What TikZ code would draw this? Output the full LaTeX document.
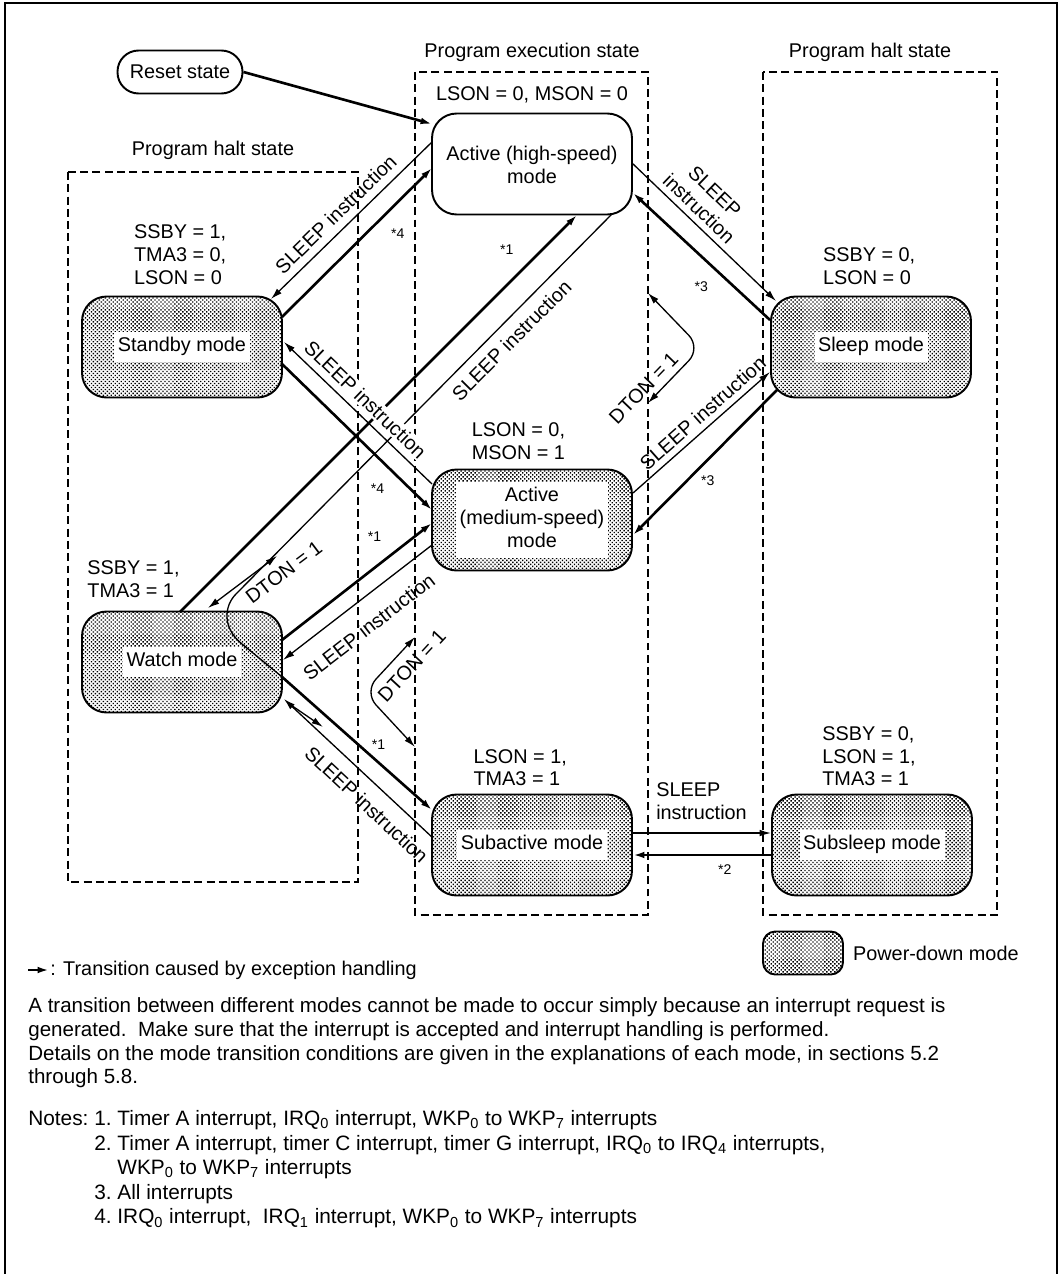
\documentclass[tikz,border=0pt]{standalone}
\usepackage{fontspec}
\setmainfont{Liberation Sans}
\usetikzlibrary{arrows.meta, positioning, calc, patterns.meta}
\newcommand{\wbox}[1]{{\setlength{\fboxsep}{2pt}\colorbox{white}{\begin{tabular}{@{}c@{}}#1\end{tabular}}}}

\begin{document}
\begin{tikzpicture}[
    x=0.02cm, y=-0.02cm,
    >={Latex[length=6.5pt,width=3.8pt]},
    font=\fontsize{11.3}{13}\selectfont,
    mode/.style={draw, line width=1.1pt, rounded corners=14pt, minimum width=4cm, minimum height=2.02cm, inner sep=0pt, align=center},
    pdmode/.style={mode, pattern={Dots[distance=1.6pt, radius=0.55pt, angle=45]}},
    cond/.style={align=left, inner sep=0pt},
    grp/.style={draw, line width=0.85pt, dash pattern=on 4.5pt off 2.5pt},
    slp/.style={->, line width=0.75pt},
    exc/.style={->, line width=1.5pt},
    dton/.style={<->, line width=0.75pt, rounded corners=10pt},
    lbl/.style={sloped},
    astx/.style={font=\fontsize{8}{8}\selectfont, inner sep=5pt}
]
    \useasboundingbox (0,0) rectangle (1062,1274);
    \draw[line width=1.1pt] (5,1274) -- (5,3) -- (1057,3) -- (1057,1274);

    \draw[grp] (68,172) rectangle (358,882);
    \draw[grp] (415,72) rectangle (648,915);
    \draw[grp] (763,72) rectangle (997,915);
    \node (exectitle) at (532,52) {Program execution state};
    \node (halttitleR) at (870,52) {Program halt state};
    \node (halttitleL) at (213,150) {Program halt state};

    \node[draw, line width=1.1pt, rounded corners=12pt, minimum width=2.5cm, minimum height=0.86cm] (reset) at (180,72) {Reset state};
    \node[mode] (act) at (532,164) {\rule{0pt}{9pt}Active (high-speed)\\mode};
    \node[pdmode] (sby) at (182,347) {\wbox{Standby mode}};
    \node[pdmode] (slp) at (871,347) {\wbox{Sleep mode}};
    \node[pdmode] (amid) at (532,520) {\wbox{Active\\(medium-speed)\\mode}};
    \node[pdmode] (wch) at (182,662) {\wbox{Watch mode}};
    \node[pdmode] (sub) at (532,845) {\wbox{Subactive mode}};
    \node[pdmode] (ssl) at (872,845) {\wbox{Subsleep mode}};

    \node[cond, above=5pt of act] (actcond) {LSON = 0, MSON = 0};
    \node[cond, above right=6pt and 30pt of sby.north west] (sbycond) {SSBY = 1,\\TMA3 = 0,\\LSON = 0};
    \node[cond, above right=6pt and 30pt of slp.north west] (slpcond) {SSBY = 0,\\LSON = 0};
    \node[cond, above right=5pt and 23pt of amid.north west] (amidcond) {LSON = 0,\\MSON = 1};
    \node[cond, above right=7pt and 3.4pt of wch.north west] (wchcond) {SSBY = 1,\\TMA3 = 1};
    \node[cond, above right=4pt and 24pt of sub.north west] (subcond) {LSON = 1,\\TMA3 = 1};
    \node[cond, above right=4pt and 29pt of ssl.north west] (sslcond) {SSBY = 0,\\LSON = 1,\\TMA3 = 1};

    \coordinate (dtontip) at (277,556);
    \coordinate (subtip) at (323,727);
    \coordinate (loopR1) at (648,293);
    \coordinate (loopR2) at (648,403);
    \coordinate (loopL1) at (415,637);
    \coordinate (loopL2) at (415,747);

    \draw[exc] (reset.east) -- ($(act)+(-100,-40)$);
    \draw[slp] ($(act)+(-100,-22)$) -- node[lbl, pos=0.53, above=1pt]{SLEEP instruction} ($(sby)+(89,-48)$);
    \draw[exc] ($(sby)+(100,-30)$) -- node[astx, pos=0.66, below right]{*4} ($(act)+(-100,4)$);
    \draw[slp] ($(act)+(100,-1)$) -- node[lbl, pos=0.4, above, align=center]{SLEEP\\instruction} ($(slp)+(-95,-46)$);
    \draw[exc] ($(slp)+(-101,-27)$) -- node[astx, pos=0.38, below left]{*3} ($(act)+(101,29)$);
    \draw[exc] ($(wch)+(-2,-50)$) -- node[astx, pos=0.87, above left, inner sep=6pt]{*1} ($(act)+(45,51)$);
    \draw[slp, -] ($(act)+(80,50)$) -- node[lbl, pos=0.3, below=2pt]{SLEEP instruction} ($(wch)+(54,-68)$)
        .. controls ($(wch)+(42,-56)$) and ($(wch)+(40,-34)$) .. ($(wch)+(60,-18)$) -- ($(wch)+(99,14)$);
    \draw[slp, <->] ($(wch)+(26,-54)$) -- node[lbl, pos=0.95, below=2pt]{DTON = 1} (dtontip);

    \draw[slp] ($(amid)+(-100,-36)$) -- node[lbl, pos=0.52, above=3pt, fill=white, inner sep=1pt]{SLEEP instruction} ($(sby)+(102,-5)$);
    \draw[exc] ($(sby)+(99,16)$) -- node[astx, pos=0.75, below left]{*4} ($(amid)+(-100,-10)$);
    \draw[exc] ($(wch)+(100,-22)$) -- node[astx, pos=0.74, above left, inner sep=6pt]{*1} ($(amid)+(-100,3)$);
    \draw[slp] ($(amid)+(-100,25)$) -- node[lbl, pos=0.53, below=7pt]{SLEEP instruction} ($(wch)+(101,-2)$);
    \draw[slp] ($(amid)+(101,-27)$) -- node[lbl, pos=0.575, above]{SLEEP instruction} ($(slp)+(-101,25)$);
    \draw[exc] ($(slp)+(-94,43)$) -- node[astx, pos=0.56, below right, inner sep=2pt]{*3} ($(amid)+(101,15)$);

    \draw[exc] ($(wch)+(99,14)$) -- node[astx, pos=0.575, above right, inner sep=1.5pt]{*1} ($(sub)+(-100,-35)$);
    \draw[slp] ($(sub)+(-99,-7)$) -- node[lbl, pos=0.35, below=4pt]{SLEEP instruction} ($(wch)+(102,37)$);
    \draw[slp] ($(wch)+(106,41)$) -- (subtip);
    \draw[slp] ($(sub)+(100,-12)$) -- node[pos=0.5, above=4pt, align=left]{SLEEP\\instruction} ($(ssl)+(-101,-12)$);
    \draw[exc] ($(ssl)+(-100,10)$) -- node[astx, pos=0.34, below, inner sep=5pt]{*2} ($(sub)+(101,10)$);

    \draw[dton] (loopR1) -- (701,348) -- node[lbl, pos=0.9, above]{DTON = 1} (loopR2);
    \draw[dton] (loopL1) -- node[lbl, pos=0.31, below=2pt]{DTON = 1} (364,692) -- (loopL2);

    \node[pdmode, minimum width=1.6cm, minimum height=0.86cm, rounded corners=7pt] (lgbox) at (803,953) {};
    \node[right=5pt of lgbox, inner sep=0pt] (lgtxt) {Power-down mode};
    \coordinate (lgA) at (28,970);
    \coordinate (lgB) at (49,970);
    \draw[exc] (lgA) -- (lgB);
    \node[anchor=west, inner sep=0pt] (lgexc) at (50,970) {: Transition caused by exception handling};

    \node[anchor=north west, align=left, inner sep=0pt, font=\fontsize{11.7}{13.6}\selectfont] (para) at (28,997)
        {A transition between different modes cannot be made to occur simply because an interrupt request is\\
         generated.\ \ Make sure that the interrupt is accepted and interrupt handling is performed.\\
         Details on the mode transition conditions are given in the explanations of each mode, in sections 5.2\\
         through 5.8.};
    \node[anchor=north west, inner sep=0pt, font=\fontsize{11.85}{14}\selectfont] (notes) at (28,1108)
        {\begin{tabular}{@{}l@{\ }l@{\ }l@{}}
         Notes: & 1. & Timer A interrupt, IRQ\textsubscript{0} interrupt, WKP\textsubscript{0} to WKP\textsubscript{7} interrupts\\
          & 2. & Timer A interrupt, timer C interrupt, timer G interrupt, IRQ\textsubscript{0} to IRQ\textsubscript{4} interrupts,\\
          & & WKP\textsubscript{0} to WKP\textsubscript{7} interrupts\\
          & 3. & All interrupts\\
          & 4. & IRQ\textsubscript{0} interrupt, \ IRQ\textsubscript{1} interrupt, WKP\textsubscript{0} to WKP\textsubscript{7} interrupts
         \end{tabular}};
\end{tikzpicture}
\end{document}
